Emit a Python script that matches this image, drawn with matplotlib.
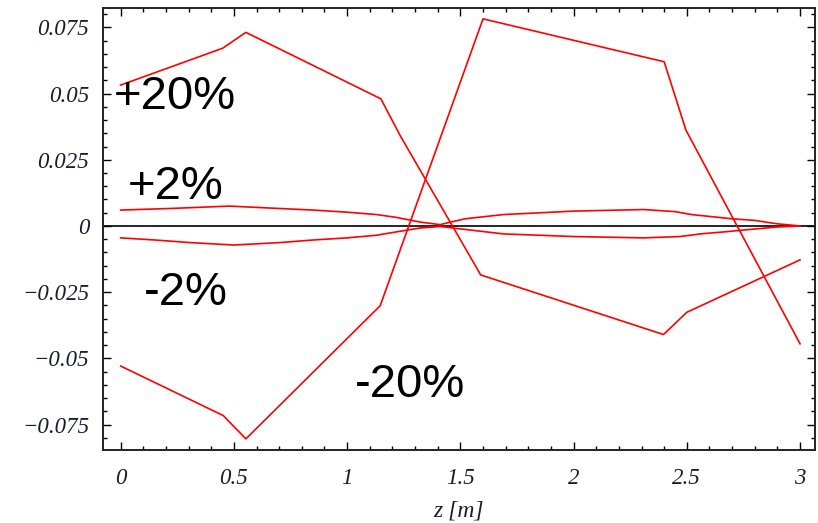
import numpy as np
import matplotlib
matplotlib.use("Agg")
import matplotlib.pyplot as plt
from matplotlib.ticker import MultipleLocator, FixedLocator

# +20% / -20% curves
z_p20 = [0, 0.45, 0.553, 1.149, 1.235, 1.59, 2.397, 2.5, 3.0]
d_p20 = [0.0532, 0.0671, 0.0731, 0.048, 0.034, -0.0185, -0.041, -0.0326, -0.0128]

z_m20 = [0, 0.453, 0.553, 1.146, 1.6, 2.4, 2.496, 3.0]
d_m20 = [-0.0529, -0.0716, -0.0804, -0.0301, 0.0782, 0.062, 0.0362, -0.0445]

# +2% / -2% curves
z_p2 = [0, 0.22, 0.48, 0.70, 0.85, 1.0, 1.13, 1.22, 1.32, 1.41, 1.52, 1.69,
        2.0, 2.31, 2.45, 2.52, 2.60, 2.70, 2.80, 2.90, 3.0]
d_p2 = [0.0060, 0.0066, 0.0075, 0.0066, 0.0060, 0.0052, 0.0043, 0.0032, 0.0015,
        0.0005, 0.0027, 0.0043, 0.0056, 0.0062, 0.0054, 0.0043, 0.0036, 0.0027,
        0.0021, 0.0008, 0.0]

z_m2 = [0, 0.15, 0.31, 0.50, 0.70, 0.85, 1.0, 1.13, 1.22, 1.32, 1.41, 1.52,
        1.69, 2.0, 2.31, 2.47, 2.56, 2.67, 2.78, 2.90, 3.0]
d_m2 = [-0.0045, -0.0053, -0.0063, -0.0072, -0.0063, -0.0053, -0.0045, -0.0035,
        -0.0022, -0.0008, -0.0002, -0.0013, -0.0030, -0.0040, -0.0045, -0.0040,
        -0.0030, -0.0022, -0.0013, -0.0004, 0.0]

x_ticks = [0, 0.5, 1, 1.5, 2, 2.5, 3]
x_labels = ["0", "0.5", "1", "1.5", "2", "2.5", "3"]
y_ticks = [0.075, 0.05, 0.025, 0, -0.025, -0.05, -0.075]
y_labels = ["0.075", "0.05", "0.025", "0", "\u22120.025", "\u22120.05", "\u22120.075"]

# curve labels: text, left x, baseline y
tags = ["+20%", "+2%", "-2%", "-20%"]
tag_x = [-0.030, 0.033, 0.103, 1.035]
tag_y = [0.0442, 0.0102, -0.0298, -0.0646]


def main():
    fig = plt.figure(figsize=(8.18, 5.23), dpi=100)
    ax = fig.add_axes([103 / 818, 1 - 450 / 523, (815 - 103) / 818, (450 - 8) / 523])

    ax.axhline(0, color="black", lw=1.2, zorder=1)
    for z, d in [(z_p20, d_p20), (z_m20, d_m20), (z_p2, d_p2), (z_m2, d_m2)]:
        ax.plot(z, d, color="red", lw=1.2, zorder=2)

    ax.set_xlim(-0.078, 3.066)
    ax.set_ylim(-0.0846, 0.0823)

    tick_font = dict(family="Liberation Serif", style="italic", size=16.5)
    ax.set_xticks(x_ticks)
    ax.set_xticklabels(x_labels, color="#1c1c30", **tick_font)
    ax.set_yticks(y_ticks)
    ax.set_yticklabels(y_labels, color="#1c1c30", **tick_font)
    ax.xaxis.set_minor_locator(MultipleLocator(0.1))
    ax.yaxis.set_minor_locator(MultipleLocator(0.005))
    ax.tick_params(which="both", direction="in", top=True, right=True, width=1.0)
    ax.tick_params(which="major", length=6)
    ax.tick_params(which="minor", length=3)
    ax.tick_params(axis="x", which="major", pad=13)
    ax.tick_params(axis="y", which="major", pad=10)
    ax.tick_params(labelright=False, labeltop=False)

    for sp in ax.spines.values():
        sp.set_linewidth(1.4)
        sp.set_color("#222222")

    ax.set_xlabel("z [m]", family="Liberation Serif", style="italic", size=17,
                  color="#1c1c30", labelpad=8)

    for t, x, y in zip(tags, tag_x, tag_y):
        ax.text(x, y, t, family="Liberation Sans", size=34, color="black",
                ha="left", va="baseline", zorder=3)

    fig.savefig("out.png", dpi=100)


if __name__ == "__main__":
    main()
